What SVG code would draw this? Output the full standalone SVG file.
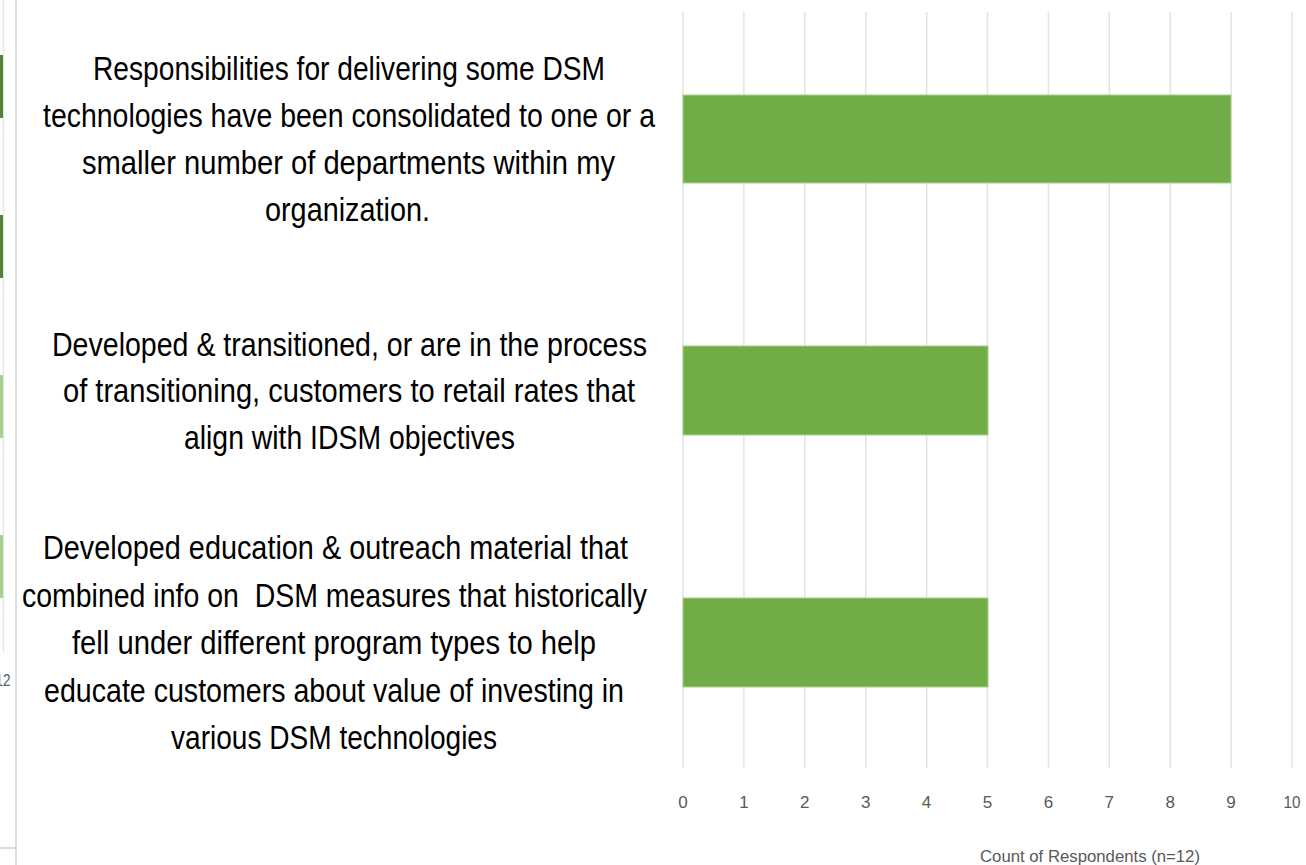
<svg xmlns="http://www.w3.org/2000/svg" width="1306" height="865" viewBox="0 0 1306 865">
<style>
.lbl{font-family:"Liberation Sans",Arial,sans-serif;font-size:34px;fill:#000;text-anchor:middle;white-space:pre}
.tick{font-family:"Liberation Sans",Arial,sans-serif;font-size:17px;fill:#595959;text-anchor:middle}
.grid{stroke:#e3e3e3;stroke-width:1.5}
.bar{fill:#70ad47;stroke:#a9d18e;stroke-width:1}
</style>
<rect x="0" y="0" width="1306" height="865" fill="#ffffff"/>
<g id="left-fragment">
  <line x1="3.5" y1="0" x2="3.5" y2="652" stroke="#e6e6e6" stroke-width="1.5"/>
  <rect x="0" y="55" width="3" height="63" fill="#548235"/>
  <rect x="0" y="215" width="3" height="63" fill="#548235"/>
  <rect x="0" y="375" width="3" height="63" fill="#a9d18e"/>
  <rect x="0" y="535" width="3" height="63" fill="#a9d18e"/>
  <text x="3" y="686" class="tick" textLength="15" lengthAdjust="spacingAndGlyphs">12</text>
  <line x1="0" y1="848" x2="16" y2="848" stroke="#d0d0d0" stroke-width="1.5"/>
  <line x1="16" y1="0" x2="16" y2="865" stroke="#d4d4d4" stroke-width="1.5"/>
</g>
<g id="gridlines">
  <line class="grid" x1="683" y1="12" x2="683" y2="768"/>
  <line class="grid" x1="743.9" y1="12" x2="743.9" y2="768"/>
  <line class="grid" x1="804.8" y1="12" x2="804.8" y2="768"/>
  <line class="grid" x1="865.7" y1="12" x2="865.7" y2="768"/>
  <line class="grid" x1="926.6" y1="12" x2="926.6" y2="768"/>
  <line class="grid" x1="987.5" y1="12" x2="987.5" y2="768"/>
  <line class="grid" x1="1048.4" y1="12" x2="1048.4" y2="768"/>
  <line class="grid" x1="1109.3" y1="12" x2="1109.3" y2="768"/>
  <line class="grid" x1="1170.2" y1="12" x2="1170.2" y2="768"/>
  <line class="grid" x1="1231.1" y1="12" x2="1231.1" y2="768"/>
  <line class="grid" x1="1292" y1="12" x2="1292" y2="768"/>
</g>
<g id="bar1">
  <rect class="bar" x="683" y="95" width="548" height="88"/>
  <text class="lbl" x="349" y="80" textLength="512" lengthAdjust="spacingAndGlyphs">Responsibilities for delivering some DSM</text>
  <text class="lbl" x="349" y="127" textLength="612" lengthAdjust="spacingAndGlyphs">technologies have been consolidated to one or a</text>
  <text class="lbl" x="348.5" y="174" textLength="533" lengthAdjust="spacingAndGlyphs">smaller number of departments within my</text>
  <text class="lbl" x="347.5" y="221" textLength="165" lengthAdjust="spacingAndGlyphs">organization.</text>
</g>
<g id="bar2">
  <rect class="bar" x="683" y="346" width="305" height="89"/>
  <text class="lbl" x="349.5" y="356" textLength="595" lengthAdjust="spacingAndGlyphs">Developed &amp; transitioned, or are in the process</text>
  <text class="lbl" x="349" y="402" textLength="572" lengthAdjust="spacingAndGlyphs">of transitioning, customers to retail rates that</text>
  <text class="lbl" x="349.5" y="449" textLength="331" lengthAdjust="spacingAndGlyphs">align with IDSM objectives</text>
</g>
<g id="bar3">
  <rect class="bar" x="683" y="598" width="305" height="89"/>
  <text class="lbl" x="335.5" y="559" textLength="585" lengthAdjust="spacingAndGlyphs">Developed education &amp; outreach material that</text>
  <text class="lbl" x="334.5" y="607" textLength="625" lengthAdjust="spacingAndGlyphs">combined info on  DSM measures that historically</text>
  <text class="lbl" x="334" y="654" textLength="524" lengthAdjust="spacingAndGlyphs">fell under different program types to help</text>
  <text class="lbl" x="334" y="702" textLength="580" lengthAdjust="spacingAndGlyphs">educate customers about value of investing in</text>
  <text class="lbl" x="334" y="749" textLength="326" lengthAdjust="spacingAndGlyphs">various DSM technologies</text>
</g>
<g id="x-axis">
  <text class="tick" x="683" y="808">0</text>
  <text class="tick" x="743.9" y="808">1</text>
  <text class="tick" x="804.8" y="808">2</text>
  <text class="tick" x="865.7" y="808">3</text>
  <text class="tick" x="926.6" y="808">4</text>
  <text class="tick" x="987.5" y="808">5</text>
  <text class="tick" x="1048.4" y="808">6</text>
  <text class="tick" x="1109.3" y="808">7</text>
  <text class="tick" x="1170.2" y="808">8</text>
  <text class="tick" x="1231.1" y="808">9</text>
  <text class="tick" x="1292" y="808" textLength="17" lengthAdjust="spacingAndGlyphs">10</text>
  <text class="tick" x="1090" y="862" textLength="220" lengthAdjust="spacingAndGlyphs">Count of Respondents (n=12)</text>
</g>
</svg>
